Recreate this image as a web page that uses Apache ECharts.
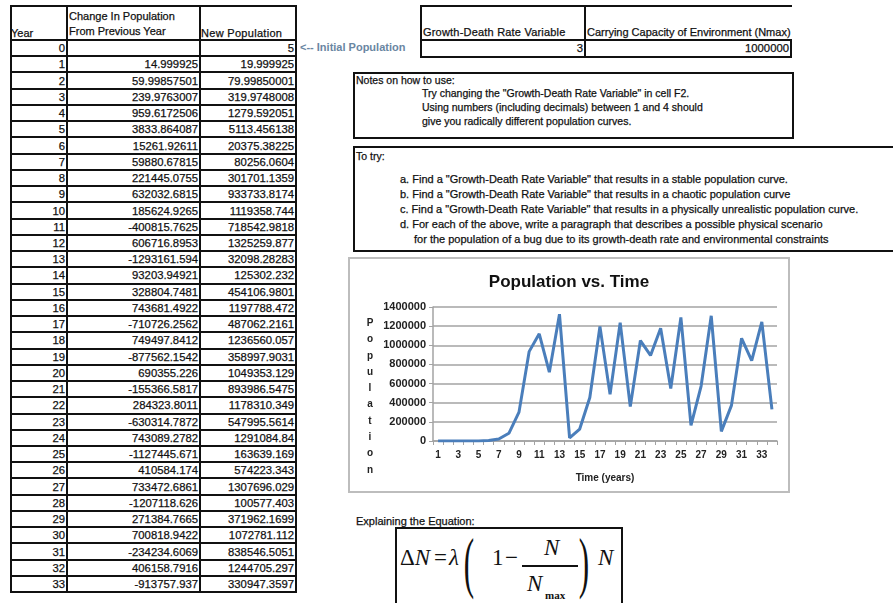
<!DOCTYPE html>
<html>
<head>
<meta charset="utf-8">
<script src="https://cdn.jsdelivr.net/npm/echarts@6/dist/echarts.min.js"></script>
<style>
  body{margin:0;width:893px;height:603px;background:#fff;position:relative;overflow:hidden;
       font-family:"Liberation Sans",Arial,sans-serif;color:#111;}
  .ln{position:absolute;background:#111;}
  .t{position:absolute;white-space:nowrap;font-size:11px;line-height:14px;-webkit-text-stroke:0.25px #111;}
  .box{position:absolute;border:2px solid #111;box-sizing:border-box;}
  #chartWrap{position:absolute;left:348px;top:257px;width:442px;height:236px;border:2px solid #bdbdbd;box-sizing:border-box;}
  #chart{position:absolute;left:350px;top:259px;width:438px;height:232px;}
  .eq{position:absolute;font-family:"Liberation Serif","Times New Roman",serif;font-size:23px;line-height:26px;color:#111;white-space:nowrap;}
  .it{font-style:italic;}
</style>
</head>
<body>
<div id="sheet"></div>
<div id="chartWrap"></div>
<div id="chart"></div>

<div class="box" style="left:395px;top:527px;width:228px;height:90px;"></div>
<div class="eq" style="left:400px;top:545px;">&Delta;<span class="it">N</span></div>
<div class="eq" style="left:434px;top:545px;">=</div>
<div class="eq it" style="left:449px;top:545px;">&lambda;</div>
<div class="eq" style="left:465px;top:550px;transform:scale(1.3,2.8);transform-origin:50% 50%;font-size:24px;">(</div>
<div class="eq" style="left:492px;top:545px;">1</div>
<div class="eq" style="left:505px;top:545px;">&minus;</div>
<div style="position:absolute;left:522px;top:565px;width:56px;height:1.5px;background:#111;"></div>
<div class="eq it" style="left:544px;top:535px;">N</div>
<div class="eq it" style="left:527px;top:571px;">N</div>
<div class="eq" style="left:545px;top:582px;font-size:11px;font-weight:bold;">max</div>
<div class="eq" style="left:580px;top:550px;transform:scale(1.3,2.8);transform-origin:50% 50%;font-size:24px;">)</div>
<div class="eq it" style="left:598px;top:545px;">N</div>

<script>
// spreadsheet values
var years = [0,1,2,3,4,5,6,7,8,9,10,11,12,13,14,15,16,17,18,19,20,21,22,23,24,25,26,27,28,29,30,31,32,33];
var changeText = ['', '14.999925', '59.99857501', '239.9763007', '959.6172506', '3833.864087', '15261.92611',
  '59880.67815', '221445.0755', '632032.6815', '185624.9265', '-400815.7625', '606716.8953', '-1293161.594',
  '93203.94921', '328804.7481', '743681.4922', '-710726.2562', '749497.8412', '-877562.1542', '690355.226',
  '-155366.5817', '284323.8011', '-630314.7872', '743089.2782', '-1127445.671', '410584.174', '733472.6861',
  '-1207118.626', '271384.7665', '700818.9422', '-234234.6069', '406158.7916', '-913757.937'];
var newPopulation = [5, 19.999925, 79.99850001, 319.9748008, 1279.592051, 5113.456138, 20375.38225,
  80256.0604, 301701.1359, 933733.8174, 1119358.744, 718542.9818, 1325259.877, 32098.28283,
  125302.232, 454106.9801, 1197788.472, 487062.2161, 1236560.057, 358997.9031, 1049353.129,
  893986.5475, 1178310.349, 547995.5614, 1291084.84, 163639.169, 574223.343, 1307696.029,
  100577.403, 371962.1699, 1072781.112, 838546.5051, 1244705.297, 330947.3597];
// chart x labels
var timeLabels = ['1','2','3','4','5','6','7','8','9','10','11','12','13','14','15','16','17',
  '18','19','20','21','22','23','24','25','26','27','28','29','30','31','32','33','34'];
var growthRate = '3';
var nmax = '1000000';

var sheet = document.getElementById('sheet');
function line(x, y, w, h){
  var d = document.createElement('div');
  d.className = 'ln';
  d.style.left = x + 'px'; d.style.top = y + 'px';
  d.style.width = w + 'px'; d.style.height = h + 'px';
  sheet.appendChild(d);
}
function txt(s, x, y, right, extra){
  var d = document.createElement('div');
  d.className = 't';
  d.textContent = s;
  var st = 'top:' + (y - 7) + 'px;left:' + x + 'px;';
  if (right) st += 'transform:translateX(-100%);';
  if (extra) st += extra;
  d.setAttribute('style', st);
  sheet.appendChild(d);
}

// left table
var rowTop = 40, rowH = 16.24;
var num = 'font-size:11.3px;';
line(10, 5, 287, 2);
for (var k = 0; k <= years.length; k++) line(10, Math.round(rowTop + k * rowH) - 1, 287, 2);
[10, 66, 199, 295].forEach(function(x){ line(x, 5, 2, Math.round(rowTop + years.length * rowH) - 4); });
txt('Year', 11, 33);
txt('Change In Population', 69, 16);
txt('From Previous Year', 69, 31);
txt('New Population', 201, 33, false, 'letter-spacing:0.3px;');
for (var i = 0; i < years.length; i++) {
  var cy = rowTop + i * rowH + rowH / 2;
  txt(String(years[i]), 65, cy, true, num);
  txt(changeText[i], 198, cy, true, num);
  txt(String(newPopulation[i]), 294, cy, true, num);
}
txt('<-- Initial Population', 300, 47, false, 'font-weight:bold;font-size:11px;color:#6a86a2;-webkit-text-stroke:0;');

// parameter table
line(420, 5, 372, 2);
line(420, 39, 372, 2);
line(420, 56, 372, 2);
line(420, 5, 2, 53);
line(584, 5, 2, 53);
line(790, 39, 2, 19);
txt('Growth-Death Rate Variable', 423, 32, false, 'letter-spacing:0.2px;');
txt('Carrying Capacity of Environment (Nmax)', 587, 32);
txt(growthRate, 583, 48, true, num);
txt(nmax, 789, 48, true, num);

// notes
var b1 = document.createElement('div'); b1.className = 'box';
b1.setAttribute('style', 'left:353px;top:72px;width:441px;height:67px;'); sheet.appendChild(b1);
var nf = 'font-size:10.5px;';
txt('Notes on how to use:', 356, 80, false, nf);
txt('Try changing the "Growth-Death Rate Variable" in cell F2.', 422, 93, false, nf);
txt('Using numbers (including decimals) between 1 and 4 should', 422, 107, false, nf);
txt('give you radically different population curves.', 422, 121, false, nf);

var b2 = document.createElement('div'); b2.className = 'box';
b2.setAttribute('style', 'left:353px;top:146px;width:560px;height:106px;'); sheet.appendChild(b2);
var tf = 'font-size:11px;';
txt('To try:', 356, 156, false, nf);
txt('a. Find a "Growth-Death Rate Variable" that results in a stable population curve.', 400, 179, false, tf);
txt('b. Find a "Growth-Death Rate Variable" that results in a chaotic population curve', 400, 194, false, tf);
txt('c. Find a "Growth-Death Rate Variable" that results in a physically unrealistic population curve.', 400, 209, false, tf);
txt('d. For each of the above, write a paragraph that describes a possible physical scenario', 400, 224, false, tf);
txt('for the population of a bug due to its growth-death rate and environmental constraints', 414, 239, false, tf);

txt('Explaining the Equation:', 356, 521, false, 'font-size:11px;');

// chart
var chart = echarts.init(document.getElementById('chart'));
var gray = '#a3a3a3';
var lab = {fontFamily: 'Liberation Sans', fontSize: 10, fontWeight: 'bold', color: '#222'};
chart.setOption({
  animation: false,
  title: {
    text: 'Population vs. Time', left: 'center', top: 10,
    textStyle: {fontFamily: 'Liberation Sans', fontSize: 17, fontWeight: 'bold', color: '#111'}
  },
  grid: {left: 83, top: 48, right: 11, bottom: 50},
  xAxis: {
    type: 'category', data: timeLabels, boundaryGap: true,
    name: 'Time (years)', nameLocation: 'middle', nameGap: 32,
    nameTextStyle: lab,
    axisLine: {lineStyle: {color: gray, width: 1.5}},
    axisTick: {show: true, interval: 0, length: 4, lineStyle: {color: gray}},
    axisLabel: Object.assign({interval: 1, margin: 9}, lab)
  },
  yAxis: {
    type: 'value', min: 0, max: 1400000, interval: 200000,
    axisLine: {show: true, lineStyle: {color: gray, width: 1.5}},
    axisTick: {show: true, length: 4, lineStyle: {color: gray}},
    axisLabel: Object.assign({margin: 7, formatter: function(v){ return String(v); }}, lab, {fontSize: 11}),
    splitLine: {lineStyle: {color: gray, width: 1.5}}
  },
  graphic: [{
    type: 'text', x: 20, y: 56,
    style: {text: 'P\no\np\nu\nl\na\nt\ni\no\nn', textAlign: 'center', lineHeight: 16.3,
            font: 'bold 10px "Liberation Sans"', fill: '#222'}
  }],
  series: [{
    type: 'line', data: newPopulation, symbol: 'none',
    lineStyle: {color: '#4a7ebb', width: 3}
  }]
});
</script>
</body>
</html>
